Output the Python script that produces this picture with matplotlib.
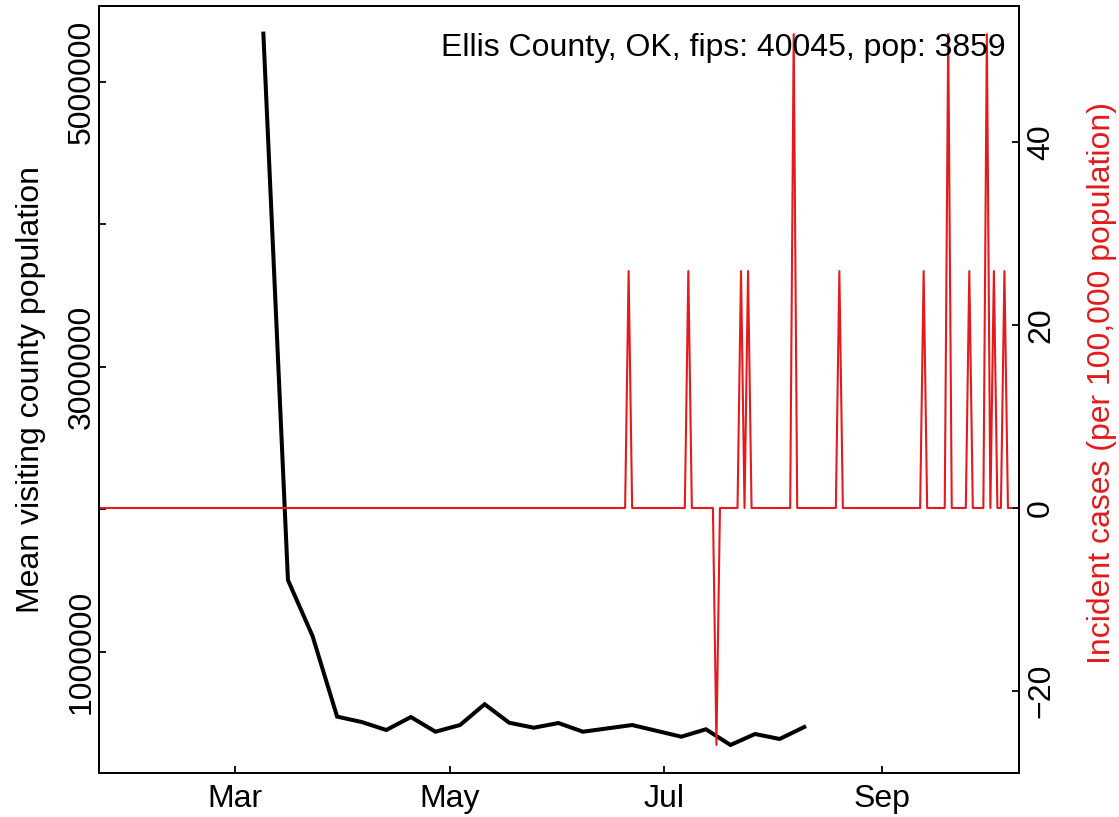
import numpy as np
import pandas as pd
import matplotlib
matplotlib.use('Agg')
import matplotlib.pyplot as plt
import matplotlib.dates as mdates

plt.rcParams['font.family'] = ['Liberation Sans', 'DejaVu Sans']
plt.rcParams['font.size'] = 23

# weekly mean visiting county population (black line)
visit_dates = ['2020-03-09', '2020-03-16', '2020-03-23', '2020-03-30', '2020-04-06',
               '2020-04-13', '2020-04-20', '2020-04-27', '2020-05-04', '2020-05-11',
               '2020-05-18', '2020-05-25', '2020-06-01', '2020-06-08', '2020-06-22',
               '2020-07-06', '2020-07-13', '2020-07-20', '2020-07-27', '2020-08-03',
               '2020-08-10']
visit_pop = [5340000, 1503000, 1110000, 544000, 506000,
             450000, 541000, 438000, 485000, 631000,
             501000, 466000, 499000, 438000, 485000,
             403000, 455000, 345000, 422000, 387000,
             471000]

# daily incident cases, zero on every day not listed
case_first = '2020-01-22'
case_last = '2020-10-08'
case_dates = ['2020-06-21', '2020-07-08', '2020-07-16', '2020-07-23', '2020-07-25',
              '2020-08-07', '2020-08-20', '2020-09-13', '2020-09-20', '2020-09-26',
              '2020-10-01', '2020-10-03', '2020-10-06']
case_counts = [1, 1, -1, 1, 1, 2, 1, 1, 2, 1, 2, 1, 1]
county_pop = 3859
title = 'Ellis County, OK, fips: 40045, pop: 3859'

red = '#E41A1C'

days = pd.date_range(case_first, case_last, freq='D')
cases = pd.Series(0.0, index=days)
cases.loc[pd.to_datetime(case_dates)] = case_counts
incidence = cases * 100000 / county_pop

fig = plt.figure(figsize=(11.19, 8.17), dpi=100)
ax = fig.add_axes([99 / 1119, 1 - 773.3 / 817, 920 / 1119, 767.6 / 817])
ax.plot(pd.to_datetime(visit_dates), visit_pop, color='black', lw=2.9,
        solid_joinstyle='miter')
ax.set_ylim(146000, 5536000)
ax.set_yticks([1000000, 2000000, 3000000, 4000000, 5000000])
ax.set_yticklabels(['1000000', '', '3000000', '', '5000000'], rotation=90, va='center')
ax.set_ylabel('Mean visiting county population')
ax.yaxis.set_label_coords(-0.0576, 0.5)

mar1 = pd.Timestamp('2020-03-01')
ax.set_xlim(mar1 - pd.Timedelta(days=38.8), mar1 + pd.Timedelta(days=223.15))
ax.set_xticks(pd.to_datetime(['2020-03-01', '2020-05-01', '2020-07-01', '2020-09-01']))
ax.xaxis.set_major_formatter(mdates.DateFormatter('%b'))
ax.tick_params(axis='x', direction='in', length=5, width=1.3, pad=8)
ax.tick_params(axis='y', direction='in', length=5, width=1.3, pad=1.5)

ax2 = ax.twinx()
ax2.plot(incidence.index, incidence.values, color=red, lw=1.5)
ax2.set_ylim(-29.02, 54.94)
ax2.set_yticks([-20, 0, 20, 40])
for lab in ax2.get_yticklabels():
    lab.set_rotation(90)
    lab.set_va('center')
ax2.tick_params(axis='y', direction='in', length=5, width=1.3, pad=5)
ax2.set_ylabel('Incident cases (per 100,000 population)', color=red)
ax2.yaxis.set_label_coords(1.074, 0.508)

for a in (ax, ax2):
    for s in a.spines.values():
        s.set_linewidth(1.4)

ax2.text(0.985, 0.935, title, transform=ax2.transAxes, ha='right', va='baseline')

fig.savefig('out.png', dpi=100)
